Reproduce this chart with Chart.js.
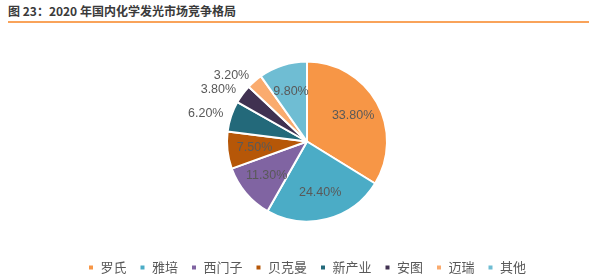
<!DOCTYPE html>
<html>
<head>
<meta charset="utf-8">
<script src="https://cdn.jsdelivr.net/npm/chart.js@4"></script>
<style>
  body { margin: 0; background: #fff; }
  #wrap { position: relative; width: 589px; height: 278px; }
  #title {
    position: absolute; left: 8px; top: 2px;
    font: bold 12px "Noto Sans CJK SC", sans-serif; color: #3a3a3a;
  }
  #rule { position: absolute; left: 8px; right: 0; top: 21px; height: 2px; background: #F9A35A; }
  #box { position: absolute; left: 0; top: 0; width: 589px; height: 278px; }
</style>
</head>
<body>
<div id="wrap">
  <div id="title">图 23：2020 年国内化学发光市场竞争格局</div>
  <div id="rule"></div>
  <div id="box"><canvas id="myChart"></canvas></div>
</div>
<script>
const companies = ['罗氏', '雅培', '西门子', '贝克曼', '新产业', '安图', '迈瑞', '其他'];
const shares = [33.8, 24.4, 11.3, 7.5, 6.2, 3.8, 3.2, 9.8];
const colours = ['#F79646', '#4BACC6', '#8064A2', '#B65708', '#23697A', '#403151', '#FAAB6E', '#6FBDD3'];
// small slices get their label outside the pie
const outside = [false, false, false, false, true, true, true, false];

const pctLabels = {
    id: 'pctLabels',
    afterDatasetsDraw(chart) {
        const ctx = chart.ctx;
        const arcs = chart.getDatasetMeta(0).data;
        ctx.save();
        ctx.font = '12.5px "Liberation Sans", sans-serif';
        ctx.fillStyle = '#595959';
        ctx.textBaseline = 'middle';
        arcs.forEach((arc, i) => {
            const mid = (arc.startAngle + arc.endAngle) / 2;
            const text = shares[i].toFixed(2) + '%';
            if (outside[i]) {
                const r = arc.outerRadius + 8;
                ctx.textAlign = 'right';
                ctx.fillText(text, arc.x + Math.cos(mid) * r, arc.y + Math.sin(mid) * r);
            } else {
                const r = arc.outerRadius * 0.66;
                ctx.textAlign = 'center';
                ctx.fillText(text, arc.x + Math.cos(mid) * r, arc.y + Math.sin(mid) * r);
            }
        });
        ctx.restore();
    }
};

const ctx = document.getElementById('myChart').getContext('2d');
const shareChart = new Chart(ctx, {
    type: 'pie',
    data: {
        labels: companies,
        datasets: [{
            data: shares,
            backgroundColor: colours,
            borderColor: '#fff',
            borderWidth: 2
        }]
    },
    options: {
        responsive: true,
        maintainAspectRatio: false,
        animation: false,
        radius: 80,
        layout: { padding: { left: 25, top: 35, right: 0, bottom: -6 } },
        plugins: {
            tooltip: { enabled: false },
            legend: {
                position: 'bottom',
                labels: {
                    boxWidth: 6,
                    boxHeight: 6,
                    padding: 13,
                    color: '#595959',
                    font: { size: 13, family: '"Noto Sans CJK SC", sans-serif' }
                }
            }
        }
    },
    plugins: [pctLabels]
});
</script>
</body>
</html>
